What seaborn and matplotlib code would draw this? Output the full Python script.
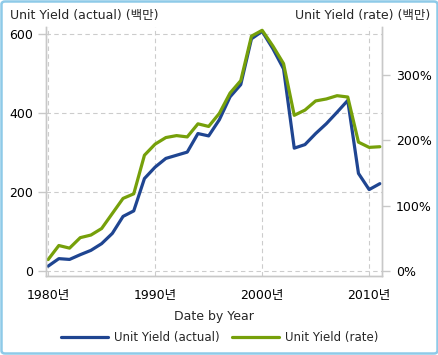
import matplotlib
matplotlib.use("Agg")
import matplotlib.pyplot as plt
import seaborn as sns
import pandas as pd
from matplotlib.patches import FancyBboxPatch
from matplotlib.lines import Line2D
from matplotlib.ticker import FuncFormatter

years = list(range(1980, 2012))
actual = [12, 31, 29, 41, 52, 69, 95, 138, 152, 234, 263, 285, 293, 301, 348, 342,
          383, 441, 472, 588, 607, 563, 512, 311, 320, 348, 373, 402, 432, 247, 206, 221]
rate = [17.5, 39, 35, 51, 55, 65, 88, 111, 118, 177, 194, 204, 207, 205, 225, 221,
        241, 272, 291, 359, 368, 344, 317, 238, 246, 260, 263, 268, 266, 197, 189, 190]
x_ticks = [1980, 1990, 2000, 2010]
left_ticks = [0, 200, 400, 600]
right_ticks = [0, 100, 200, 300]

df = pd.DataFrame({"year": years, "actual": actual, "rate": rate})

sns.set_theme(style="white")
plt.rcParams['font.family'] = ['DejaVu Sans', 'Noto Sans CJK KR']

blue = "#1f4591"
green = "#76a00a"
gray = "#c8c8c8"
fs = 9

fig = plt.figure(figsize=(4.39, 3.55), dpi=100)
ax = fig.add_axes([46/439, 1-276/355, (382-46)/439, (276-27)/355])
ax2 = ax.twinx()

sns.lineplot(data=df, x="year", y="actual", ax=ax, color=blue, linewidth=2.3)
sns.lineplot(data=df, x="year", y="rate", ax=ax2, color=green, linewidth=2.3)

ax.set_xlim(1979.8, 2011.2)
ax.set_ylim(-13, 618)
ax2.set_ylim(-7.6, 373)

ax.set_xticks(x_ticks)
ax.xaxis.set_major_formatter(FuncFormatter(lambda v, p: f"{int(v)}년"))
ax.set_yticks(left_ticks)
ax2.set_yticks(right_ticks)
ax2.yaxis.set_major_formatter(FuncFormatter(lambda v, p: f"{int(v)}%"))

ax.grid(True, color="#cccccc", linestyle=(0, (4, 3)), linewidth=0.8)
ax2.grid(False)

for a in (ax, ax2):
    for s in a.spines.values():
        s.set_color(gray)
        s.set_linewidth(1)
    a.spines['top'].set_visible(False)
    a.tick_params(colors=gray, labelcolor="black", labelsize=fs, length=6, width=1,
                  direction="out")
ax.tick_params(axis="x", pad=3)
ax.tick_params(axis="y", pad=3)
ax2.tick_params(axis="y", pad=4)

ax.set_xlabel("Date by Year", fontsize=fs, labelpad=6)
ax.set_ylabel("")
ax2.set_ylabel("")

fig.text(10/439, 1-16/355, "Unit Yield (actual) (백만)", fontsize=fs, ha="left", va="center")
fig.text(430/439, 1-16/355, "Unit Yield (rate) (백만)", fontsize=fs, ha="right", va="center")

handles = [Line2D([0], [0], color=blue, lw=2.3), Line2D([0], [0], color=green, lw=2.3)]
fig.legend(handles, ["Unit Yield (actual)", "Unit Yield (rate)"], loc="center",
           bbox_to_anchor=(0.5, 1-338/355), ncol=2, frameon=False, fontsize=8.5,
           handlelength=4.0, columnspacing=1.0, handletextpad=0.5)

border = FancyBboxPatch((1.5/439, 1.5/355), 1-3/439, 1-3/355,
                        boxstyle="round,pad=0,rounding_size=0.008",
                        transform=fig.transFigure, fill=False, edgecolor="#8ecae8",
                        linewidth=1.8)
fig.patches.append(border)

fig.savefig("out.png", dpi=100)
